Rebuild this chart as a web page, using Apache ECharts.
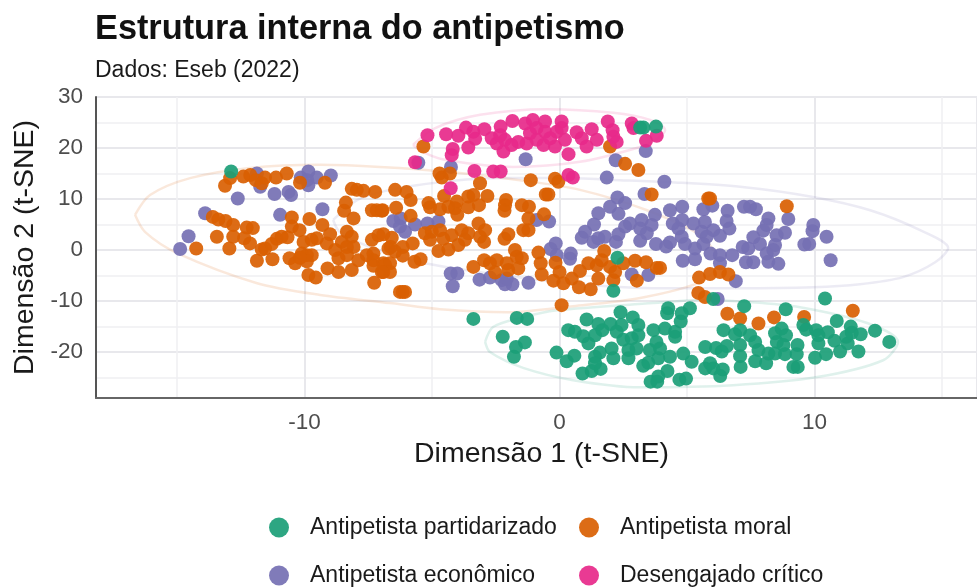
<!DOCTYPE html>
<html>
<head>
<meta charset="utf-8">
<title>Estrutura interna do antipetismo</title>
<script src="https://cdn.jsdelivr.net/npm/echarts@6/dist/echarts.min.js"></script>
<style>
  html, body { margin: 0; padding: 0; background: #fff; }
  #echarts-main { width: 977px; height: 587px; }
</style>
</head>
<body>
<div id="echarts-main"></div>
<script>
  const chartTitle = 'Estrutura interna do antipetismo';
  const chartSubtitle = 'Dados: Eseb (2022)';
  const xAxisName = 'Dimensão 1 (t-SNE)';
  const yAxisName = 'Dimensão 2 (t-SNE)';

  const categories = ['Antipetista partidarizado', 'Antipetista moral', 'Antipetista econômico', 'Desengajado crítico'];
  const colors = ['#1B9E77', '#D95F02', '#7570B3', '#E7298A'];

  // pontos: [dimensão 1, dimensão 2]
  const partidarizado = [
    [-12.88,15.4],[2.27,-1.5],[2.11,-8.0],[3.16,24.0],[3.29,24.0],[3.78,24.2],[6.03,-9.6],[10.41,-9.5],
    [-3.38,-13.5],[-1.68,-13.3],[-1.27,-13.5],[-2.23,-17.0],[-1.36,-18.1],[-1.71,-19.0],[-1.79,-20.9],
    [-0.12,-20.1],[0.28,-21.8],[0.58,-20.7],[0.34,-15.7],[0.6,-16.0],[0.93,-16.9],[1.06,-13.6],[1.52,-14.5],
    [1.13,-18.3],[1.39,-16.7],[1.68,-15.7],[2.0,-14.5],[2.39,-12.2],[2.87,-13.2],[3.09,-14.7],[2.43,-14.7],
    [2.24,-16.0],[2.5,-17.6],[2.83,-17.3],[3.09,-16.7],[2.04,-19.3],[1.58,-20.1],[1.39,-20.9],[2.11,-21.2],
    [2.7,-21.2],[2.7,-19.6],[3.02,-19.3],[0.9,-24.2],[1.26,-23.7],[1.61,-23.3],[1.39,-22.2],[3.28,-22.7],
    [3.48,-22.1],[3.54,-19.6],[3.68,-15.7],[4.13,-15.4],[3.8,-18.0],[3.94,-19.3],[3.87,-21.2],[4.33,-20.9],
    [4.85,-20.3],[5.18,-21.9],[4.53,-17.0],[4.53,-16.0],[4.26,-11.4],[4.22,-12.4],[4.79,-12.4],[5.11,-11.4],
    [4.75,-14.0],[4.23,-23.7],[3.87,-24.8],[3.57,-25.8],[3.83,-25.8],[4.7,-25.4],[4.96,-25.2],
    [7.24,-11.0],[8.87,-11.6],[6.43,-15.7],[6.88,-16.5],[7.08,-15.7],[7.47,-16.7],[7.67,-18.0],[5.71,-19.0],
    [6.14,-19.2],[6.36,-19.9],[6.56,-18.8],[7.08,-18.6],[7.08,-20.8],[7.1,-22.9],[7.67,-21.8],[8.1,-22.2],
    [7.8,-19.6],[8.19,-20.3],[8.45,-16.3],[8.71,-15.4],[8.52,-18.0],[8.45,-20.3],[8.88,-16.7],[8.78,-18.6],
    [8.84,-20.4],[9.33,-18.6],[9.3,-20.4],[9.17,-22.9],[9.34,-22.9],[9.56,-14.7],[9.67,-15.6],[10.02,-21.1],
    [10.45,-20.4],[10.06,-15.7],[10.15,-16.7],[10.15,-18.3],[10.52,-16.1],[10.78,-17.8],[10.87,-13.9],[11.0,-19.9],
    [11.3,-18.3],[11.24,-17.0],[11.42,-15.0],[11.46,-16.2],[11.81,-16.5],[11.72,-19.9],[12.37,-15.8],[12.93,-18.0],
    [5.9,-22.2],[5.71,-23.2],[6.03,-23.2],[6.4,-23.4],[6.3,-24.7]
  ];
  const moral = [
    [-13.12,12.6],[-12.92,14.1],[-12.4,14.4],[-12.13,14.7],[-11.91,13.7],[-11.68,13.1],[-11.55,14.2],[-11.12,14.2],
    [-10.7,15.0],[-10.18,13.2],[-9.2,13.2],[-8.15,12.0],[-7.95,11.8],[-7.69,11.6],[-7.23,11.4],[-8.38,9.3],
    [-8.45,7.7],[-8.08,6.2],[-7.36,7.8],[-7.17,7.8],[-6.97,7.7],[-13.6,6.5],[-13.38,6.0],[-13.1,5.7],[-12.8,4.9],
    [-12.27,4.4],[-12.03,4.3],[-13.44,2.6],[-12.8,2.6],[-12.37,2.3],[-12.14,1.3],[-12.95,0.3],[-14.25,0.3],
    [-11.68,0.1],[-11.55,0.3],[-11.29,1.2],[-11.09,2.2],[-10.9,2.6],[-10.67,2.5],[-11.87,-2.1],[-11.26,-1.8],
    [-10.59,-1.6],[-10.37,-2.6],[-10.5,6.4],[-10.5,4.6],[-10.2,3.9],[-9.81,6.1],[-9.3,4.9],[-9.0,3.1],
    [-10.04,1.6],[-9.72,2.0],[-9.52,2.3],[-9.13,1.3],[-10.11,-0.7],[-9.91,-1.0],[-9.72,-1.0],[-9.91,-2.2],
    [-10.18,-1.5],[-9.1,-3.6],[-8.67,-4.3],[-8.15,-3.9],[-9.85,-4.9],[-9.56,-5.4],[-8.34,3.6],[-8.15,2.6],
    [-8.54,1.6],[-8.08,0.6],[-8.34,0.6],[-8.8,0.0],[-8.67,-1.6],[-8.34,-1.0],[-7.89,-2.0],[-7.56,-1.0],[-7.3,-0.7],
    [-7.3,-2.0],[-7.3,-3.1],[-6.91,-2.6],[-6.91,-4.3],[-7.27,-6.4],[-7.36,2.0],[-7.1,2.9],[-6.91,3.1],[-6.71,0.3],
    [-6.45,11.8],[-6.0,11.4],[-5.84,9.8],[-6.94,7.8],[-6.41,8.3],[-5.84,6.7],[-6.58,2.4],[-6.62,0.6],[-6.15,0.6],
    [-5.76,1.3],[-6.15,-1.1],[-6.45,-0.3],[-5.69,-2.3],[-5.45,-1.8],[-6.84,-2.9],[-6.65,-2.6],[-6.65,-4.3],[-6.97,-4.3],
    [-6.26,-8.2],[-6.15,-8.2],[-6.06,-8.2],[-5.34,20.3],[-4.71,15.0],[-4.62,14.2],[-4.3,15.0],[-3.12,13.1],
    [-1.13,13.7],[-0.18,14.0],[-0.05,13.4],[-0.54,10.9],[-0.44,10.9],[1.98,20.3],[2.57,16.9],[3.09,15.7],[3.61,10.9],
    [-4.53,10.6],[-5.14,9.2],[-5.08,8.4],[-4.69,8.0],[-4.36,8.5],[-4.03,9.5],[-4.1,8.2],[-4.01,6.9],[-3.58,8.4],
    [-3.58,10.5],[-3.38,10.8],[-3.16,8.8],[-2.83,10.6],[-2.1,9.8],[-2.14,8.8],[-2.16,7.7],[-1.48,8.8],[-1.2,8.5],
    [-0.61,7.0],[-1.22,6.2],[-1.42,3.9],[-1.22,3.9],[-2.01,3.1],[-2.16,2.2],[-5.28,3.3],[-5.01,3.6],[-5.08,2.0],
    [-4.69,3.9],[-4.23,2.9],[-4.56,2.2],[-4.75,-0.2],[-4.36,0.1],[-3.97,1.0],[-3.84,3.9],[-3.58,3.3],[-3.71,2.0],
    [-3.18,5.2],[-3.12,2.6],[-2.92,3.9],[-2.96,1.6],[-3.38,-3.3],[-2.96,-2.0],[-2.73,-2.6],[-2.46,-2.0],[-2.53,-4.4],
    [-2.07,-2.6],[-2.01,-3.9],[-1.75,0.0],[-1.68,-1.3],[-1.48,-1.6],[-1.62,-3.6],[-0.83,-0.5],[-0.74,-2.6],[-0.7,-4.8],
    [-0.16,-2.5],[0.0,-4.3],[-0.24,-6.0],[0.15,-6.5],[0.48,-5.6],[0.76,-7.3],[1.22,-7.7],[0.8,-4.1],[1.13,-2.6],
    [1.46,-3.0],[1.52,-5.6],[1.75,-0.2],[1.65,-2.0],[1.98,-3.3],[2.18,-4.3],[2.11,-5.9],[2.5,-2.6],[2.96,-2.1],
    [3.39,-2.4],[3.81,-3.5],[3.94,-3.5],[3.03,-6.0],[0.08,-10.8],[5.83,10.1],[5.9,10.1],[8.91,8.6],[5.47,-5.4],
    [5.9,-4.7],[6.29,-4.3],[6.62,-4.8],[5.44,-8.4],[5.7,-9.2],[6.58,-12.5],[7.08,-13.4],[7.8,-14.4],[8.41,-13.2],
    [9.59,-13.1],[11.5,-11.9]
  ];
  const economico = [
    [-11.87,15.0],[-11.74,12.4],[-12.62,10.1],[-11.18,11.0],[-10.63,11.4],[-10.53,10.8],[-10.15,14.2],[-9.85,15.4],
    [-9.52,14.2],[-8.97,14.6],[-9.85,12.7],[-9.9,13.7],[-13.9,7.2],[-10.96,6.9],[-9.3,8.0],[-14.55,2.7],[-14.88,0.2],
    [-1.33,17.8],[-4.26,16.3],[-5.54,17.1],[2.2,17.6],[3.38,19.4],[1.85,14.2],[4.11,13.4],[3.33,11.0],[2.27,10.3],
    [2.57,9.2],[1.98,8.5],[1.52,7.2],[2.31,7.1],[1.35,5.0],[1.0,3.6],[0.87,2.4],[1.33,1.6],[1.52,2.3],[1.78,2.6],
    [2.21,1.6],[2.31,3.1],[2.57,4.6],[2.76,5.2],[3.22,5.9],[3.74,6.9],[3.16,4.2],[3.61,4.9],[3.42,3.3],[3.16,1.8],
    [3.78,1.2],[4.18,0.7],[4.33,1.5],[4.33,7.8],[4.44,5.2],[-6.52,5.7],[-6.23,6.2],[-6.26,4.6],[-6.06,3.6],[-5.67,5.0],
    [-5.18,5.2],[-4.75,5.6],[-0.9,5.9],[-0.41,5.6],[-0.15,1.3],[-0.35,0.2],[-0.11,-1.0],[0.44,-0.7],[0.41,-1.7],
    [-4.27,-4.6],[-4.01,-4.6],[-4.19,-7.1],[-3.14,-5.8],[-2.73,-5.4],[-2.27,-5.9],[-2.14,-6.7],[-1.85,-6.7],[-2.07,-5.6],
    [-1.22,-6.4],[2.83,-4.8],[3.48,-4.9],[4.81,8.5],[5.64,8.0],[5.99,8.7],[6.59,7.7],[7.23,8.5],[7.47,8.5],[7.7,8.0],
    [8.19,6.2],[8.97,6.1],[6.55,5.7],[6.66,4.2],[8.12,4.9],[7.99,3.8],[7.6,2.5],[8.84,3.4],[8.51,2.9],[9.95,4.9],
    [9.92,3.7],[10.47,2.6],[9.79,1.2],[9.6,1.1],[10.63,-2.0],[4.81,5.9],[5.25,5.2],[5.7,5.5],[4.66,4.2],[6.03,3.9],
    [6.29,2.8],[5.57,3.6],[4.79,2.6],[5.77,2.6],[4.92,1.2],[5.31,0.3],[5.64,1.2],[5.92,-0.7],[6.29,-1.0],[6.77,-1.0],
    [7.18,0.6],[7.4,0.3],[7.86,1.2],[8.45,1.0],[8.38,0.0],[8.12,-0.7],[4.83,-2.1],[5.31,-1.8],[7.31,-2.4],[7.6,-2.4],
    [8.19,-2.3],[8.58,-2.7],[6.29,-2.6],[6.91,-6.1],[6.2,-9.6]
  ];
  const critico = [
    [-5.18,22.5],[-5.67,17.2],[-4.45,22.7],[-3.97,22.4],[-3.67,24.0],[-3.38,23.2],[-3.31,21.8],[-3.58,20.1],[-4.19,19.8],
    [-4.23,18.6],[-3.34,15.5],[-4.27,12.1],[-2.6,15.4],[-2.31,15.4],[-2.95,23.7],[-2.31,24.2],[-1.85,25.3],[-1.35,24.8],
    [-1.05,25.5],[-0.57,25.2],[0.08,25.2],[-2.66,21.9],[-2.46,20.9],[-2.2,19.3],[-2.14,21.6],[-1.88,20.6],[-2.33,22.5],
    [-1.62,21.2],[-1.29,20.9],[-1.16,22.9],[-0.9,23.9],[-0.63,20.6],[-0.57,23.2],[-0.18,20.3],[-0.37,21.9],[-0.11,23.2],
    [0.21,21.6],[0.08,23.9],[0.35,18.8],[-0.9,21.6],[0.35,14.7],[0.52,14.2],[0.67,23.1],[0.87,21.9],[1.06,20.3],[1.26,23.7],
    [1.46,21.6],[1.89,25.2],[2.08,23.5],[2.11,22.2],[2.24,21.2],[2.83,24.8],[2.9,23.9],[3.81,22.4],[3.39,21.4]
  ];

  // contornos das elipses, também
  const elipsePartidarizado = [
    [-2.92,-18.0],[-2.61,-15.1],[-1.55,-13.3],[-0.1,-11.8],[3.67,-10.4],[5.51,-9.8],[7.47,-10.2],[9.43,-11.2],[12.06,-14.3],
    [13.27,-18.0],[12.69,-21.6],[10.1,-24.9],[6.8,-26.5],[3.16,-26.9],[0.53,-25.5],[-1.43,-23.1],[-2.73,-20.0],[-2.92,-18.0]
  ];
  const elipseMoral = [
    [-16.65,6.9],[-16.06,10.8],[-14.49,14.1],[-12.14,16.1],[-9.39,16.7],[-7.04,16.3],[-4.29,15.3],[-1.55,13.7],[0.8,11.8],
    [3.43,7.8],[5.51,2.9],[6.22,-2.4],[5.51,-6.3],[3.16,-9.4],[0.53,-11.0],[-2.06,-12.2],[-4.69,-11.6],[-6.65,-10.4],
    [-9.39,-8.8],[-11.86,-6.5],[-15.0,-0.6],[-16.25,3.5],[-16.65,6.9]
  ];
  const elipseEconomico = [
    [-8.88,5.9],[-7.94,9.8],[-6.65,11.8],[-4.69,13.3],[-2.33,14.1],[0.02,14.1],[2.37,13.7],[4.33,13.3],[7.08,12.4],[9.94,10.4],
    [12.18,7.8],[14.14,3.9],[15.24,0.4],[14.73,-2.4],[13.47,-5.3],[11.78,-6.7],[9.94,-7.3],[6.96,-7.5],[3.94,-7.5],[0.8,-6.7],
    [-2.33,-4.9],[-5.47,-2.4],[-7.43,0.6],[-8.61,3.5],[-8.88,5.9]
  ];
  const elipseCritico = [
    [-5.75,20.6],[-4.88,23.9],[-3.12,26.5],[-0.49,27.6],[2.1,26.9],[3.55,25.5],[4.14,23.5],[3.75,21.6],[3.16,20.2],[0.8,17.3],
    [-1.82,16.3],[-4.41,17.6],[-5.27,19.0],[-5.75,20.6]
  ];

  const pointSets = [partidarizado, moral, economico, critico];
  const ellipseSets = [elipsePartidarizado, elipseMoral, elipseEconomico, elipseCritico];
  const drawOrder = [2, 1, 3, 0];

  const fontFamily = '"Liberation Sans", Arial, sans-serif';

  const ellipseSeries = ellipseSets.map((pts, i) => ({
    name: 'elipse ' + categories[i],
    type: 'line',
    data: pts,
    smooth: 0.3,
    showSymbol: false,
    silent: true,
    z: 1,
    lineStyle: { color: colors[i], width: 2.5, opacity: 0.14 }
  }));

  const pointSeries = drawOrder.map((i) => ({
    name: categories[i],
    type: 'scatter',
    data: pointSets[i],
    symbolSize: 14,
    z: 2,
    itemStyle: { color: colors[i], opacity: 0.92 }
  }));

  const legendBase = {
    orient: 'vertical',
    top: 516,
    height: 120,
    padding: 0,
    icon: 'circle',
    itemWidth: 20,
    itemHeight: 20,
    itemGap: 25,
    selectedMode: false,
    textStyle: { fontFamily, fontSize: 23, color: '#1a1a1a', padding: [0, 0, 0, 16] }
  };

  const chart = echarts.init(document.getElementById('echarts-main'), null, { renderer: 'canvas' });

  chart.setOption({
    animation: false,
    backgroundColor: '#fff',
    title: {
      text: chartTitle,
      subtext: chartSubtitle,
      left: 95,
      top: 13,
      padding: 0,
      itemGap: 12,
      textStyle: { fontFamily, fontSize: 34.3, fontWeight: 'bold', color: '#111' },
      subtextStyle: { fontFamily, fontSize: 23, color: '#1a1a1a' }
    },
    legend: [
      Object.assign({}, legendBase, { left: 269, data: [categories[0], categories[2]] }),
      Object.assign({}, legendBase, { left: 579, data: [categories[1], categories[3]] })
    ],
    grid: { left: 96, top: 97, width: 881, height: 301, containLabel: false },
    xAxis: {
      type: 'value',
      min: -18.18,
      max: 16.37,
      splitNumber: 3,
      name: xAxisName,
      nameLocation: 'middle',
      nameGap: 42,
      nameTextStyle: { fontFamily, fontSize: 28.5, color: '#1a1a1a', padding: [0, 0, 0, 10] },
      axisLine: { show: true, onZero: false, lineStyle: { color: '#666', width: 2 } },
      axisTick: { show: false },
      axisLabel: { fontFamily, fontSize: 22.5, color: '#4d4d4d', margin: 13, showMinLabel: false, showMaxLabel: false },
      splitLine: { show: true, lineStyle: { color: '#e8e8ec', width: 2 } },
      minorTick: { show: false, splitNumber: 2 },
      minorSplitLine: { show: true, lineStyle: { color: '#f0f0f2', width: 1.5 } }
    },
    yAxis: {
      type: 'value',
      min: -29,
      max: 30,
      splitNumber: 6,
      name: yAxisName,
      nameLocation: 'middle',
      nameGap: 51,
      nameTextStyle: { fontFamily, fontSize: 28.5, color: '#1a1a1a' },
      axisLine: { show: true, onZero: false, lineStyle: { color: '#555', width: 2 } },
      axisTick: { show: false },
      axisLabel: { fontFamily, fontSize: 22.5, color: '#4d4d4d', margin: 13, showMinLabel: false },
      splitLine: { show: true, lineStyle: { color: '#e8e8ec', width: 2 } },
      minorTick: { show: false, splitNumber: 2 },
      minorSplitLine: { show: true, lineStyle: { color: '#f0f0f2', width: 1.5 } }
    },
    series: ellipseSeries.concat(pointSeries)
  });
</script>
</body>
</html>
